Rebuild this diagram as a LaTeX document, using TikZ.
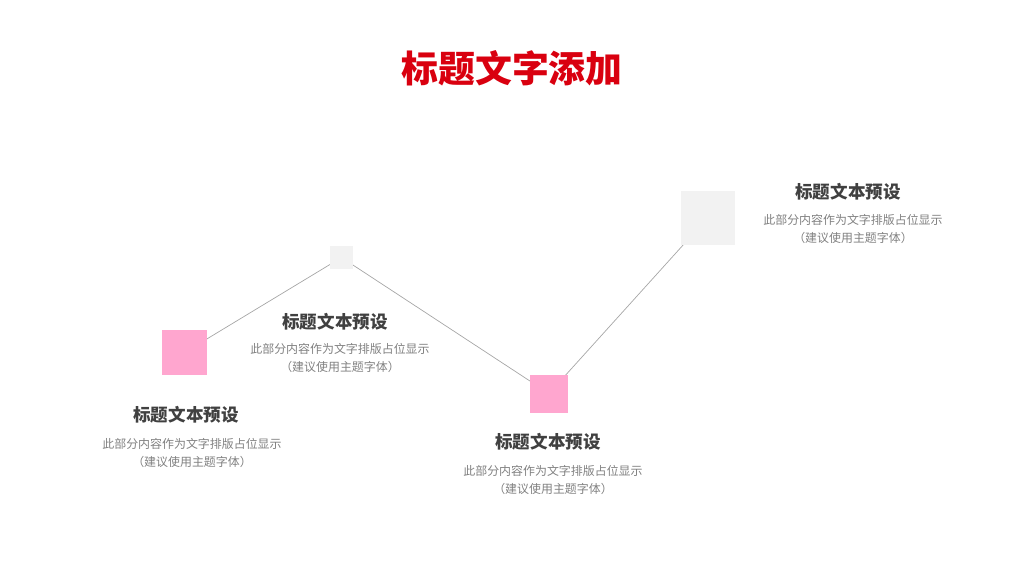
\documentclass[tikz,border=0pt]{standalone}
\usepackage{fontspec}
\setmainfont{Noto Sans CJK SC}
\usepackage{tikz}
\definecolor{pinkbox}{HTML}{FFA6CF}
\definecolor{greybox}{HTML}{F2F2F2}
\definecolor{titlered}{HTML}{D9000F}
\begin{document}
\begin{tikzpicture}[x=0.02cm,y=-0.02cm,
		box/.style={fill=#1,inner sep=0pt},
		head/.style={font=\fontsize{10}{12}\selectfont\bfseries,text=black!75},
		desc/.style={font=\fontsize{6.8}{10}\selectfont,text=black!50,align=center}]
	\useasboundingbox (0,0) rectangle (1024,576);
	\node[font=\fontsize{21}{24}\selectfont\bfseries,text=titlered] (title) at (512,68) {标题文字添加};
	
	\coordinate (c1) at (184.5,352.5);
	\coordinate (c2) at (341.5,257.5);
	\coordinate (c3) at (549,393.5);
	\coordinate (c4) at (707.5,218);
	\draw[black!35] (c1) -- (c2) -- (c3) -- (c4);
	
	\node[box=pinkbox,minimum size=0.9cm] (1) at (c1) {};
	\node[box=greybox,minimum size=0.46cm] (2) at (c2) {};
	\node[box=pinkbox,minimum size=0.76cm] (3) at (c3) {};
	\node[box=greybox,minimum size=1.08cm] (4) at (c4) {};
	
	\node[head] (h1) at (186,415) {标题文本预设};
	\node[desc] (d1) at (192,453) {此部分内容作为文字排版占位显示\\（建议使用主题字体）};
	\node[head] (h2) at (335,322) {标题文本预设};
	\node[desc] (d2) at (340,358) {此部分内容作为文字排版占位显示\\（建议使用主题字体）};
	\node[head] (h3) at (548,442) {标题文本预设};
	\node[desc] (d3) at (553,480) {此部分内容作为文字排版占位显示\\（建议使用主题字体）};
	\node[head] (h4) at (848,192) {标题文本预设};
	\node[desc] (d4) at (853,229) {此部分内容作为文字排版占位显示\\（建议使用主题字体）};
\end{tikzpicture}
\end{document}
